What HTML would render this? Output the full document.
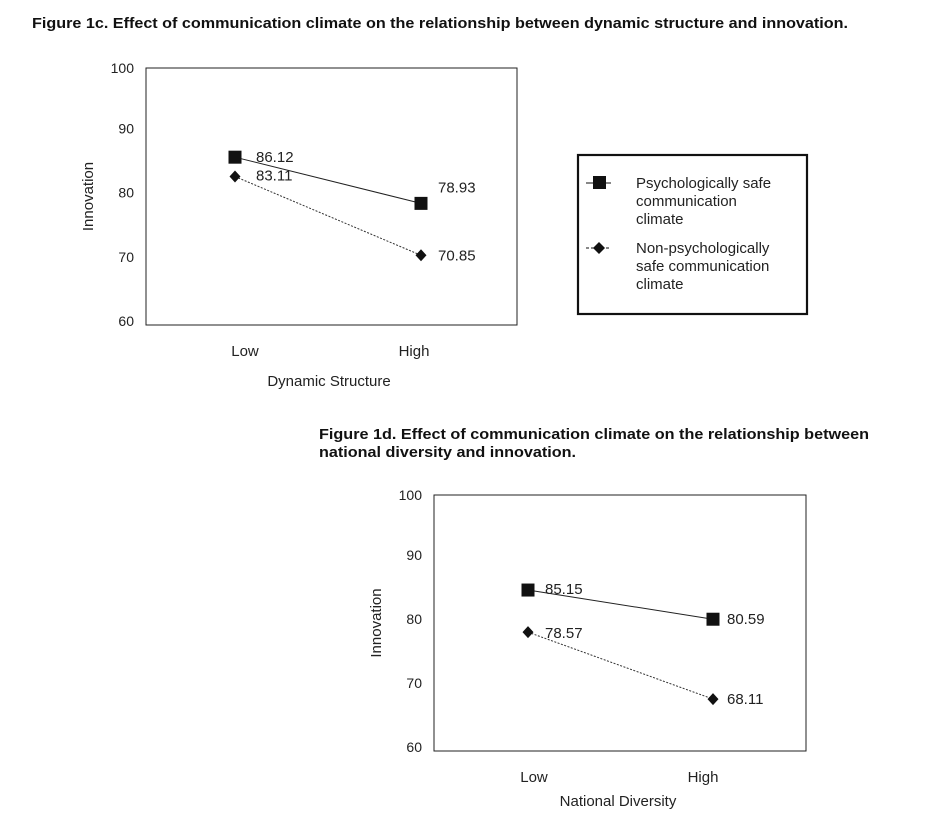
<!DOCTYPE html>
<html><head><meta charset="utf-8"><style>
html,body{margin:0;padding:0;background:#fff}
svg{display:block;font-family:"Liberation Sans",Arial,sans-serif}
</style></head><body>
<svg id="s" width="945" height="823" viewBox="0 0 945 823">
<text x="32" y="28" font-size="15" font-weight="bold" fill="#111" textLength="816" lengthAdjust="spacingAndGlyphs">Figure 1c. Effect of communication climate on the relationship between dynamic structure and innovation.</text>
<text x="319" y="439" font-size="15" font-weight="bold" fill="#111" textLength="550" lengthAdjust="spacingAndGlyphs">Figure 1d. Effect of communication climate on the relationship between</text>
<text x="319" y="457" font-size="15" font-weight="bold" fill="#111" textLength="257" lengthAdjust="spacingAndGlyphs">national diversity and innovation.</text>
<g id="c1"></g>
<g id="c2"></g>
<g>
<rect x="578" y="155" width="229" height="159" fill="none" stroke="#111" stroke-width="2.2"/>
<g>
<line x1="586" y1="183" x2="611" y2="183" stroke="#111" stroke-width="1"/>
<rect x="593" y="176" width="13" height="13" fill="#111"/>
<text x="636" y="188" font-size="15" fill="#222">Psychologically safe</text>
<text x="636" y="206" font-size="15" fill="#222">communication</text>
<text x="636" y="224" font-size="15" fill="#222">climate</text>
</g>
<g>
<line x1="586" y1="248" x2="611" y2="248" stroke="#111" stroke-width="1" stroke-dasharray="3,2"/>
<path d="M599 242 L605 248 L599 254 L593 248 Z" fill="#111"/>
<text x="636" y="253" font-size="15" fill="#222">Non-psychologically</text>
<text x="636" y="271" font-size="15" fill="#222">safe communication</text>
<text x="636" y="289" font-size="15" fill="#222">climate</text>
</g>
</g>
</svg>
<script>
const categories = ["Low", "High"];
const tickValues = [60, 70, 80, 90, 100];
const c1Safe = [86.12, 78.93];
const c1NonSafe = [83.11, 70.85];
const c2Safe = [85.15, 80.59];
const c2NonSafe = [78.57, 68.11];
const c1XTitle = "Dynamic Structure";
const c2XTitle = "National Diversity";

const NS = "http://www.w3.org/2000/svg";
function mk(parent, tag, attrs, text) {
  const e = document.createElementNS(NS, tag);
  for (const k in attrs) e.setAttribute(k, attrs[k]);
  if (text !== undefined) e.textContent = text;
  parent.appendChild(e);
  return e;
}
function drawChart(g, cfg, safe, non, xTitle) {
  const y = v => cfg.bottom - (v - 60) / 40 * (cfg.bottom - cfg.top);
  const x = i => cfg.xs[i];
  const frame = mk(g, "rect", {x: cfg.left, y: cfg.top, width: cfg.right - cfg.left, height: cfg.bottom - cfg.top, fill: "none", stroke: "#222", "stroke-width": 1});
  
  
  tickValues.forEach(v => {
    const t = mk(g, "text", {x: cfg.left - 12, y: Math.max(y(v) - 4, cfg.top) + 5, "font-size": 14, "text-anchor": "end", fill: "#222"}, String(v));
    
    
  });
  const yt = mk(g, "text", {x: 0, y: 0, "font-size": 15, "text-anchor": "middle", fill: "#222", transform: `translate(${cfg.yTitleX},${(cfg.top + cfg.bottom) / 2}) rotate(-90)`}, "Innovation");
  
  
  categories.forEach((c, i) => {
    const t = mk(g, "text", {x: cfg.catX[i], y: cfg.bottom + 31, "font-size": 15, "text-anchor": "middle", fill: "#222"}, c);
    
    
  });
  const xt = mk(g, "text", {x: cfg.xTitleX, y: cfg.bottom + cfg.xTitleDy, "font-size": 15, "text-anchor": "middle", fill: "#222"}, xTitle);
  
  
  const l1 = mk(g, "line", {x1: x(0), y1: y(safe[0]), x2: x(1), y2: y(safe[1]), stroke: "#222", "stroke-width": 1});
  
  
  const l2 = mk(g, "line", {x1: x(0), y1: y(non[0]), x2: x(1), y2: y(non[1]), stroke: "#333", "stroke-width": 1, "stroke-dasharray": "2,1.5"});
  
  
  safe.forEach((v, i) => {
    const r = mk(g, "rect", {x: x(i) - 6.5, y: y(v) - 6.5, width: 13, height: 13, fill: "#111"});
    
    
    const t = mk(g, "text", {x: x(i) + cfg.safeLab[i][0], y: y(v) + cfg.safeLab[i][1], "font-size": 15, fill: "#222"}, v.toFixed(2));
    
    
  });
  non.forEach((v, i) => {
    const px = x(i), py = y(v);
    const d = mk(g, "path", {d: `M${px} ${py - 6} L${px + 5.5} ${py} L${px} ${py + 6} L${px - 5.5} ${py} Z`, fill: "#111"});
    
    
    const t = mk(g, "text", {x: px + cfg.nonLab[i][0], y: py + cfg.nonLab[i][1], "font-size": 15, fill: "#222"}, v.toFixed(2));
    
    
  });
}
drawChart(document.getElementById("c1"), {
  left: 146, right: 517, top: 68, bottom: 325, xs: [235, 421], catX: [245, 414],
  yTitleX: 93, xTitleX: 329, xTitleDy: 61,
  safeLab: [[21, 5], [17, -11]], nonLab: [[21, 4], [17, 5]]
}, c1Safe, c1NonSafe, c1XTitle);
drawChart(document.getElementById("c2"), {
  left: 434, right: 806, top: 495, bottom: 751, xs: [528, 713], catX: [534, 703],
  yTitleX: 381, xTitleX: 618, xTitleDy: 55,
  safeLab: [[17, 4], [14, 5]], nonLab: [[17, 6], [14, 5]]
}, c2Safe, c2NonSafe, c2XTitle);
</script>
</body></html>
